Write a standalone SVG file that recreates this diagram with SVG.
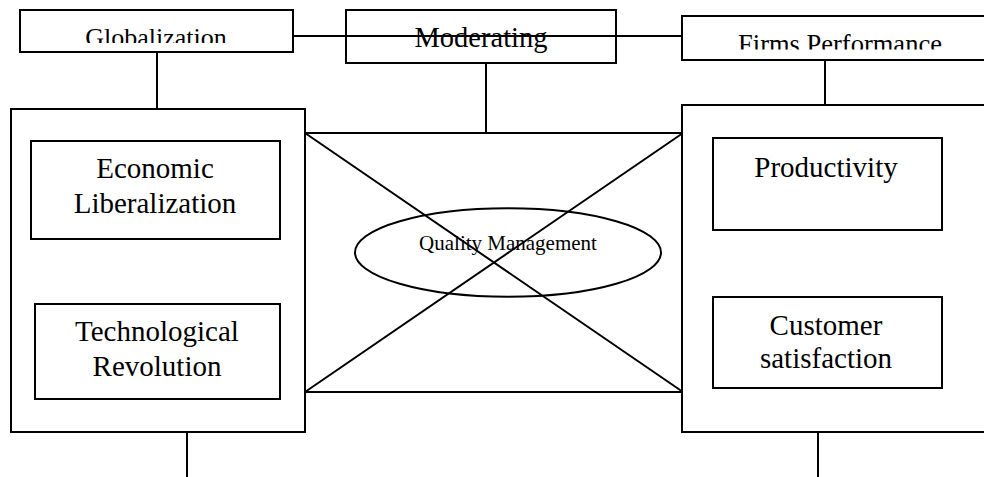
<svg xmlns="http://www.w3.org/2000/svg" width="984" height="477" viewBox="0 0 984 477">
  <style>
    .box { fill: #ffffff; stroke: #000000; stroke-width: 2; }
    .wire { fill: none; stroke: #000000; stroke-width: 2; }
    .lbl { font-family: "Liberation Serif", "Times New Roman", serif; fill: #000000; text-anchor: middle; }
  </style>
  <defs>
    <clipPath id="clip-glob"><rect x="21" y="11" width="271" height="32"/></clipPath>
    <clipPath id="clip-firms"><rect x="683" y="17" width="310" height="32.5"/></clipPath>
  </defs>
  <rect width="984" height="477" fill="#ffffff"/>

  <!-- connectors -->
  <g id="connectors">
    <line class="wire" x1="293" y1="36" x2="683" y2="36"/>
    <line class="wire" x1="157" y1="52" x2="157" y2="109"/>
    <line class="wire" x1="486" y1="63" x2="486" y2="133"/>
    <line class="wire" x1="825" y1="60" x2="825" y2="105"/>
    <line class="wire" x1="305" y1="133" x2="683" y2="133"/>
    <line class="wire" x1="305" y1="392" x2="683" y2="392"/>
    <line class="wire" x1="305" y1="133" x2="683" y2="392"/>
    <line class="wire" x1="305" y1="392" x2="683" y2="133"/>
    <line class="wire" x1="187" y1="432" x2="187" y2="477"/>
    <line class="wire" x1="818" y1="432" x2="818" y2="477"/>
  </g>

  <!-- top row -->
  <g id="globalization">
    <rect class="box" x="20" y="10" width="273" height="42"/>
    <text class="lbl" x="156" y="45.5" font-size="26" clip-path="url(#clip-glob)">Globalization</text>
  </g>
  <g id="moderating">
    <rect class="box" x="346" y="10" width="270" height="53" fill="none" style="fill:none"/>
    <text class="lbl" x="481" y="47" font-size="28.5">Moderating</text>
  </g>
  <g id="firms-performance">
    <rect class="box" x="682" y="16" width="310" height="44"/>
    <text class="lbl" x="840" y="52.5" font-size="26.5" clip-path="url(#clip-firms)">Firms Performance</text>
  </g>

  <!-- left column -->
  <g id="globalization-factors">
    <rect class="box" x="11" y="109" width="294" height="323"/>
  </g>
  <g id="economic-liberalization">
    <rect class="box" x="31" y="141" width="249" height="98"/>
    <text class="lbl" x="155" y="178" font-size="29">Economic</text>
    <text class="lbl" x="155" y="212.5" font-size="29">Liberalization</text>
  </g>
  <g id="technological-revolution">
    <rect class="box" x="35" y="304" width="245" height="95"/>
    <text class="lbl" x="157" y="340.5" font-size="29">Technological</text>
    <text class="lbl" x="157" y="376" font-size="29">Revolution</text>
  </g>

  <!-- moderator -->
  <g id="quality-management">
    <ellipse class="wire" cx="508" cy="252.5" rx="153" ry="44.3"/>
    <text class="lbl" x="508" y="249.5" font-size="21">Quality Management</text>
  </g>

  <!-- right column -->
  <g id="performance-measures">
    <rect class="box" x="682" y="105" width="310" height="327"/>
  </g>
  <g id="productivity">
    <rect class="box" x="713" y="138" width="229" height="92"/>
    <text class="lbl" x="826" y="177" font-size="29">Productivity</text>
  </g>
  <g id="customer-satisfaction">
    <rect class="box" x="713" y="297" width="229" height="91"/>
    <text class="lbl" x="826" y="335" font-size="29">Customer</text>
    <text class="lbl" x="826" y="368" font-size="29">satisfaction</text>
  </g>
</svg>
